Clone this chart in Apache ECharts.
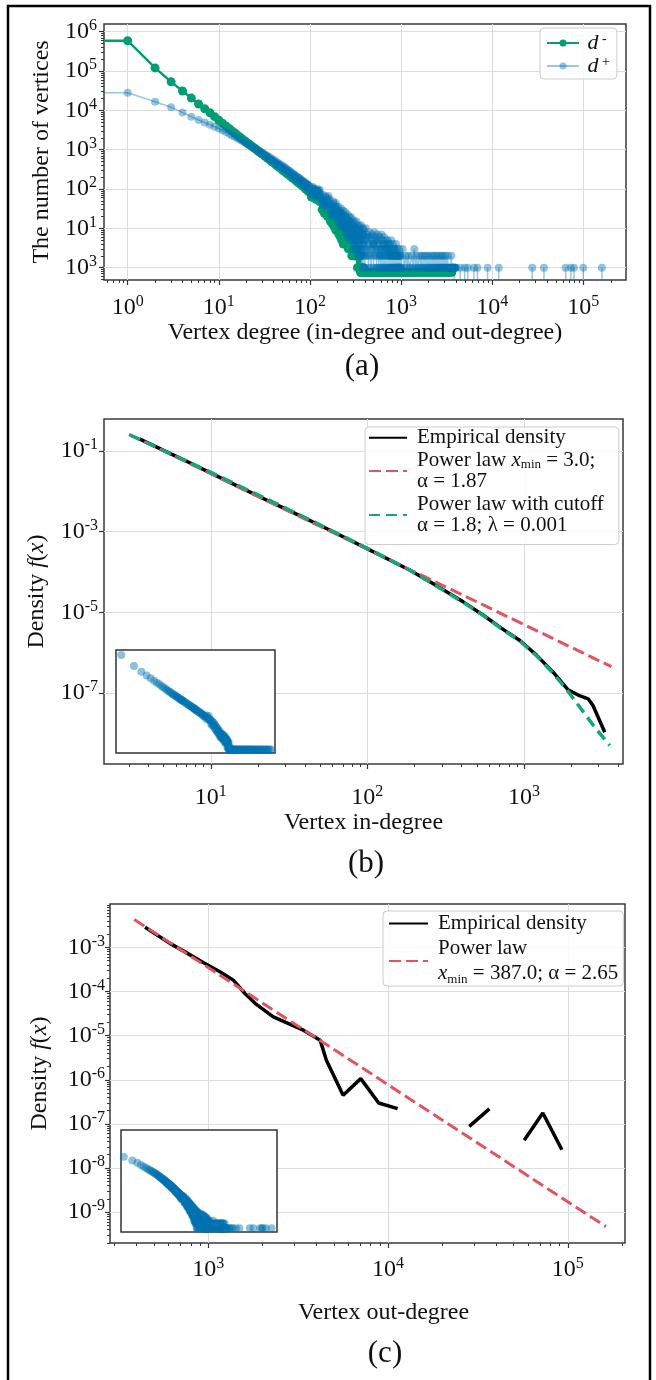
<!DOCTYPE html>
<html>
<head>
<meta charset="utf-8">
<script src="https://cdn.jsdelivr.net/npm/echarts@6/dist/echarts.min.js"></script>
<style>
html,body{margin:0;padding:0;background:#ffffff;}
#chart{width:656px;height:1380px;}
</style>
</head>
<body>
<div id="chart"></div>
<script>
// ================= DATA =================
// Panel (a): number of vertices with a given degree  [degree, number of vertices]
// (the in-degree floor row sits slightly below the 10^0 line in the figure)
const inDegreeCounts = [
[1,590000],[2,120000],[3,53000],[4,31000],[5,20500],[6,14500],[7,11000],[8,8700],[9,6900],[10,5600],
[11,4700],[12,4000],[13,3450],[14,3000],[15,2650],[16,2350],[17,2100],[18,1900],[19,1720],[20,1570],
[21,1440],[22,1330],[23,1230],[24,1140],[25,1060],[26,990],[27,925],[28,870],[29,815],[30,770],
[32,690],[34,615],[36,550],[38,500],[40,460],[42,420],[44,385],[46,355],[48,330],[50,305],
[52,285],[54,265],[56,248],[58,232],[60,220],[62,205],[65,190],[68,176],[70,165],[73,150],
[76,140],[80,128],[83,118],[86,112],[90,100],[93,96],[96,86],
[100,84],[104,62],[108,100],[112,70],[116,55],[120,88],[124,60],[128,48],
[132,52],[136,30],[140,44],[144,24],[148,38],[152,28],[156,20],[160,33],
[164,26],[168,15],[172,22],[176,13],[180,20],[184,11],[188,16],[192,9],[196,14],[200,10],
[204,12],[208,7],[212,10],[216,6],[220,9],[224,5],[228,8],[232,4],[236,7],[240,5],
[244,7],[248,4],[252,6],[256,4],[260,5],[264,3],[268,6],[272,3],[276,4],[280,3],
[284,5],[288,2],[292,4],[296,3],[300,2],[304,4],[308,2],[312,3],[316,2],[320,3],
[324,2],[328,3],[332,1],[336,2],[340,2],[344,1],[348,2],[352,1],[356,2],[360,0.75],
[364,0.75],[368,0.75],[372,1],[376,0.75],[380,0.75],[384,0.75],[388,1],[392,0.75],[396,0.75],[400,0.75],
[420,0.75],[440,0.75],[450,0.75],[480,0.75],[500,0.75],[520,0.75],[540,0.75],[560,0.75],[590,0.75],[620,0.75],[650,0.75],[680,0.75],
[710,0.75],[750,0.75],[790,0.75],[830,0.75],[870,0.75],[920,0.75],[960,0.75],[1000,0.75],[1060,0.75],[1120,0.75],[1180,0.75],[1250,0.75],
[1320,0.75],[1400,0.75],[1500,0.75],[1600,0.75],[1700,0.75],[1800,0.75],[1920,0.75],[2050,0.75],[2200,0.75],[2350,0.75],[2500,0.75],
[2700,0.75],[2900,0.75],[3100,0.75],[3350,0.75],[3600,0.75]
];
const outDegreeCounts = [
[1,28000],[2,16500],[3,12000],[4,8800],[5,6900],[6,5700],[7,4900],[8,4300],[9,3850],[10,3450],
[11,3100],[12,2800],[13,2550],[14,2300],[15,2120],[16,1960],[17,1810],[18,1680],[19,1560],[20,1450],
[21,1360],[22,1270],[23,1190],[24,1120],[25,1060],[26,1000],[27,945],[28,895],[29,850],
[30,840],[31,740],[32,770],[33,660],[34,700],[35,600],[36,650],[37,555],[38,600],[39,505],
[40,545],[41,470],[42,505],[43,430],[44,470],[45,400],[46,440],[47,375],[48,410],[49,350],
[50,385],[51,330],[52,360],[53,305],[54,340],[55,290],[56,318],[57,270],[58,300],[59,255],
[60,285],[61,240],[62,268],[63,225],[64,252],[65,215],[66,240],[67,202],[68,228],[69,190],
[70,215],[71,180],[72,206],[73,172],[74,198],[75,165],[76,188],[77,156],[78,180],[79,148],
[80,172],[81,142],[82,165],[83,137],[84,158],[85,130],[86,150],[87,125],[88,145],[89,120],
[90,140],[91,115],[92,134],[93,110],[94,130],[95,106],[96,125],[97,101],[98,120],[99,98],
[100,100],[104,75],[108,112],[112,90],[116,64],[120,100],[124,80],[128,96],
[132,72],[136,45],[140,70],[144,38],[148,64],[152,55],[156,42],[160,66],
[164,55],[168,24],[172,40],[176,20],[180,48],[184,30],[188,22],[192,44],[196,34],[200,19],
[204,36],[208,14],[212,26],[216,11],[220,32],[224,20],[228,12],[232,28],[236,16],[240,10],
[244,26],[248,8],[252,17],[256,6],[260,22],[264,12],[268,7],[272,19],[276,10],[280,6],
[284,19],[288,5],[292,12],[296,3],[300,16],[304,8],[308,4],[312,14],[316,6],[320,3],
[324,15],[328,3],[332,9],[336,2],[340,12],[344,6],[348,2],[352,11],[356,4],[360,2],
[364,12],[368,2],[372,7],[376,1],[380,10],[384,4],[388,1],[392,9],[396,3],[400,1],
[410,10],[420,2],[430,6],[440,1],[450,8],[460,3],[470,1],[480,7],[490,4],[500,1],
[510,8],[520,2],[530,5],[540,1],[550,7],[560,3],[570,1],[580,6],[590,2],[600,1],
[610,7],[620,1],[630,4],[640,2],[650,6],[660,1],[670,3],[680,5],[690,1],[700,2],
[710,5],[720,1],[730,3],[740,1],[750,4],[760,2],[770,1],[780,5],[790,1],[800,2],
[810,4],[820,1],[830,2],[840,1],[850,3],[860,1],[870,2],[880,4],[890,1],[900,1],
[910,3],[920,1],[930,2],[940,1],[950,3],[960,1],[970,1],[980,2],[990,1],[1000,1],
[1040,3],[1080,1],[1120,2],[1160,1],[1200,2],[1240,1],[1280,1],[1320,2],[1360,1],[1400,3],
[1440,1],[1480,2],[1520,1],[1560,1],[1600,2],
[1640,1],[1680,2],[1720,1],[1760,1],[1800,2],[1840,1],[1880,2],[1920,1],[1960,1],[2000,2],
[2040,1],[2080,1],[2120,2],[2160,1],[2200,1],
[2240,2],[2280,1],[2320,1],[2360,2],[2400,1],[2440,1],[2480,2],[2520,1],[2560,1],[2600,1],
[2640,2],[2680,1],[2720,1],[2760,2],[2800,1],
[2840,1],[2880,2],[2920,1],[2960,1],[3000,1],[3040,2],[3080,1],[3120,1],[3160,1],[3200,1],
[3240,2],[3280,1],[3320,1],[3360,1],[3400,1],
[3440,1],[3480,1],[3520,1],[3560,2],[3600,1],[3640,1],[3680,1],[3720,1],[3760,1],[3800,1],
[3840,1],[3880,1],[3920,1],[3960,1],[4000,1],
[4001,0],[4459,0],[4460,1],[4461,0],[4999,0],[5000,1],[5001,0],[5399,0],[5400,1],[5401,0],
[6299,0],[6300,1],[6301,0],[6899,0],[6900,1],[6901,0],[8899,0],[8900,1],[8901,0],
[11799,0],[11800,1],[11801,0],[27499,0],[27500,1],[27501,0],[36999,0],[37000,1],[37001,0],
[63999,0],[64000,1],[64001,0],[72999,0],[73000,1],[73001,0],[78999,0],[79000,1],[79001,0],
[99999,0],[100000,1],[100001,0],[159999,0],[160000,1],[160001,0]
];
// further out-degree points inside the dense cloud (between the ones above)
const outDegreeCountsMore = [
[102,88],[106,70],[110,95],[114,78],[118,84],[122,66],[126,90],[130,74],
[134,58],[138,40],[142,52],[146,47],[150,36],[154,60],[158,44],[162,50],
[166,38],[170,28],[174,33],[178,24],[182,42],[186,26],[190,36],[194,21],[198,30],[202,25],
[206,22],[210,17],[214,28],[218,13],[222,20],[226,24],[230,15],[234,19],[238,12],[242,21],
[246,14],[250,10],[254,19],[258,9],[262,13],[266,16],[270,8],[274,12],[278,15],[282,9],
[286,10],[290,7],[294,13],[298,5],[302,9],[306,11],[310,6],[314,8],[318,10],[322,5],
[326,7],[330,5],[334,10],[338,4],[342,8],[346,3],[350,6],[354,9],[358,5],[362,3],
[366,5],[370,8],[374,3],[378,6],[382,2],[386,7],[390,4],[394,5],[398,2],
[405,5],[415,3],[425,7],[435,2],[445,4],[455,6],[465,2],[475,5],[485,3],[495,4],
[505,4],[515,2],[525,6],[535,3],[545,1],[555,5],[565,2],[575,4],[585,3],[595,2],
[605,3],[615,5],[625,2],[635,4],[645,1],[655,3],[665,2],[675,4],[685,1],[695,3],
[705,3],[715,2],[725,4],[735,1],[745,2],[755,3],[765,1],[775,2],[785,3],[795,1],
[805,2],[815,3],[825,1],[835,2],[845,1],[855,3],[865,1],[875,2],[885,1],[895,2],
[905,2],[915,1],[925,2],[935,1],[945,1],[955,2],[965,1],[975,1],[985,2],[995,1]
];
// vertices of degree 0 (drawn as the flat run to the left edge)
const zeroDegreeIn = 590000;
const zeroDegreeOut = 28000;
const aXTicks = [1, 10, 100, 1000, 10000, 100000];
const aXTickExp = ['0', '1', '2', '3', '4', '5'];
const aYTicks = [1, 10, 100, 1000, 10000, 100000, 1000000];
const aYTickExp = ['3', '1', '2', '3', '4', '5', '6'];

// Panel (b): in-degree density
const empBX = [3.5, 6.4, 10.1, 15.4, 20.6, 26.4, 37, 56, 104, 186, 251, 409, 550, 720, 942, 1202, 1535, 1914, 2218, 2570, 2754, 3281];
const empBY = [0.2, 0.066, 0.028, 0.0126, 0.0073, 0.0046, 0.0025, 0.00115, 3.5e-4, 1.12e-4, 5.75e-5, 1.82e-5, 8.5e-6, 4.0e-6, 2.0e-6, 8.7e-7, 3.3e-7, 1.2e-7, 8.9e-8, 7.2e-8, 5.0e-8, 1.07e-8];
const plBX = [3.0, 3620];
const plBY = [0.26, 4.5e-7];
const plcBX = [3.05, 6.4, 10.1, 20.6, 37, 56, 104, 186, 251, 409, 550, 720, 942, 1202, 1535, 1914, 2300, 2800, 3530];
const plcBY = [0.25, 0.066, 0.029, 0.0078, 0.0026, 0.00118, 3.6e-4, 1.12e-4, 5.6e-5, 1.78e-5, 8.3e-6, 3.9e-6, 1.95e-6, 8.4e-7, 3.1e-7, 1.1e-7, 4.2e-8, 1.5e-8, 5.0e-9];
const bXTicks = [10, 100, 1000];
const bXTickExp = ['1', '2', '3'];
const bYTicks = [1e-1, 1e-3, 1e-5, 1e-7];
const bYTickExp = ['-1', '-3', '-5', '-7'];

// Panel (c): out-degree density (null = gap in the empirical curve)
const empCX = [445, 612, 742, 942, 1161, 1378, 1600, 1820, 2300, 3380, 4190, 4540, 5625, 7050, 8870, 11300, null, 28300, 36600, null, 57200, 72600, 92700];
const empCY = [2.84e-3, 1.23e-3, 7.9e-4, 4.5e-4, 2.8e-4, 1.81e-4, 9.0e-5, 5.4e-5, 2.66e-5, 1.33e-5, 7.9e-6, 2.77e-6, 4.45e-7, 1.06e-6, 2.98e-7, 2.22e-7, null, 8.8e-8, 2.18e-7, null, 4.24e-8, 1.77e-7, 2.6e-8];
const plCX = [387, 163000];
const plCY = [4.3e-3, 4.7e-10];
const cXTicks = [1000, 10000, 100000];
const cXTickExp = ['3', '4', '5'];
const cYTicks = [1e-3, 1e-4, 1e-5, 1e-6, 1e-7, 1e-8, 1e-9];
const cYTickExp = ['-3', '-4', '-5', '-6', '-7', '-8', '-9'];

// ================= CHART =================
const FONT = '"Liberation Serif", "Times New Roman", serif';
const INK = '#111111';
const GREEN = '#029e73';
const BLUE = '#0173b2';
const RED = '#e05560';
const CUTGREEN = '#14a77a';
const ZERO_DRAW = 1e-3; // zero counts fall below the log axis (clipped)

const R = {
  a: { x: [0.55, 2.94e5], y: [0.485, 1.57e6] },
  b: { x: [2.08, 4290], y: [1.74e-9, 0.622] },
  c: { x: [284, 2.08e5], y: [2.0e-10, 9.6e-3] },
  bi: { x: [0.75, 4500], y: [0.45, 1.2e6] },
  ci: { x: [0.8, 2.5e5], y: [0.59, 1.3e6] }
};

function logMinor(lo, hi) {
  const out = [];
  for (let e = Math.floor(Math.log10(lo)) - 1; e <= Math.ceil(Math.log10(hi)); e++) {
    for (let k = 2; k <= 9; k++) {
      const v = k * Math.pow(10, e);
      if (v >= lo && v <= hi) out.push(v);
    }
  }
  return out;
}
function supFmt(ticks, exps) {
  return function (v) {
    for (let i = 0; i < ticks.length; i++) {
      if (Math.abs(Math.log10(v) - Math.log10(ticks[i])) < 1e-6) return '{b|10}{s|' + exps[i] + '}';
    }
    return '';
  };
}
const tickRich = {
  b: { fontFamily: FONT, fontSize: 24, lineHeight: 28, color: INK },
  s: { fontFamily: FONT, fontSize: 16, lineHeight: 16, verticalAlign: 'top', color: INK }
};
function majorAxis(o) {
  return {
    type: 'log', gridIndex: o.grid, position: o.pos, min: o.range[0], max: o.range[1],
    axisLine: { show: false },
    axisTick: { show: true, length: 5, inside: false, customValues: o.ticks, lineStyle: { color: '#333', width: 1.2 } },
    axisLabel: { show: true, customValues: o.ticks, formatter: supFmt(o.ticks, o.exps), margin: o.margin, rich: tickRich, color: INK },
    splitLine: { show: true, lineStyle: { color: '#dddddd', width: 1 } },
    minorTick: { show: false }, minorSplitLine: { show: false },
    name: o.name, nameLocation: 'middle', nameGap: o.nameGap,
    nameTextStyle: Object.assign({ fontFamily: FONT, fontSize: 24, color: INK }, o.nameStyle || {})
  };
}
function minorAxis(o) {
  return {
    type: 'log', gridIndex: o.grid, position: o.pos, min: o.range[0], max: o.range[1],
    axisLine: { show: false },
    axisTick: { show: true, length: 3, inside: false, customValues: logMinor(o.range[0], o.range[1]), lineStyle: { color: '#333', width: 1 } },
    axisLabel: { show: false }, splitLine: { show: false }, minorTick: { show: false }
  };
}
function hiddenAxis(grid, range) {
  return { type: 'log', gridIndex: grid, min: range[0], max: range[1], show: false, splitLine: { show: false } };
}
function zip(xs, ys) {
  return xs.map((x, i) => (x === null || ys[i] === null) ? ['-', '-'] : [x, ys[i]]);
}
const densityName = '{n|Density }{i|f}{n|(}{i|x}{n|)}';
const densityRich = {
  n: { fontFamily: FONT, fontSize: 24, color: INK },
  i: { fontFamily: FONT, fontSize: 24, fontStyle: 'italic', color: INK }
};

const outAll = outDegreeCounts.concat(outDegreeCountsMore).sort((p, q) => p[0] - q[0]);
const inLine = [{ value: [R.a.x[0], zeroDegreeIn], symbol: 'none' }].concat(inDegreeCounts.map(p => [p[0], p[1]]));
const outLine = [{ value: [R.a.x[0], zeroDegreeOut], symbol: 'none' }].concat(outAll.map(p => [p[0], p[1] === 0 ? ZERO_DRAW : p[1]]));

const legendBase = {
  orient: 'vertical', selectedMode: false, backgroundColor: 'rgba(255,255,255,0.85)',
  borderColor: '#cccccc', borderWidth: 1, borderRadius: 4
};
const legRich = {
  g: { fontFamily: FONT, fontSize: 20 },
  i: { fontFamily: FONT, fontSize: 21, fontStyle: 'italic', color: INK },
  sub: { fontFamily: FONT, fontSize: 13, lineHeight: 13, verticalAlign: 'bottom', color: INK }
};
const legendText = {
  emp_b: 'Empirical density',
  pl_b: 'Power law {i|x}{sub|min} = 3.0;\nα = 1.87',
  plc_b: 'Power law with cutoff\nα = 1.8; λ = 0.001',
  emp_c: 'Empirical density',
  pl_c: 'Power law\n{i|x}{sub|min} = 387.0; α = 2.65'
};
function legFmt(name) {
  return legendText[name].split('\n').map(l => '{g| }' + l).join('\n');
}

const option = {
  animation: false,
  backgroundColor: '#ffffff',
  grid: [
    { left: 104, top: 24, width: 522, height: 256, show: true, borderColor: '#3a3a3a', borderWidth: 1.5, backgroundColor: 'rgba(0,0,0,0)', outerBoundsMode: 'none' },
    { left: 104, top: 419, width: 519, height: 345, show: true, borderColor: '#3a3a3a', borderWidth: 1.5, backgroundColor: 'rgba(0,0,0,0)', outerBoundsMode: 'none' },
    { left: 110, top: 904, width: 515, height: 339, show: true, borderColor: '#3a3a3a', borderWidth: 1.5, backgroundColor: 'rgba(0,0,0,0)', outerBoundsMode: 'none' },
    { left: 116, top: 650, width: 159, height: 103, show: true, borderColor: '#333333', borderWidth: 1.5, backgroundColor: '#ffffff', z: 10, outerBoundsMode: 'none' },
    { left: 121, top: 1130, width: 156, height: 102, show: true, borderColor: '#333333', borderWidth: 1.5, backgroundColor: '#ffffff', z: 10, outerBoundsMode: 'none' }
  ],
  xAxis: [
    majorAxis({ grid: 0, pos: 'bottom', range: R.a.x, ticks: aXTicks, exps: aXTickExp, margin: 14, name: 'Vertex degree (in-degree and out-degree)', nameGap: 39 }),
    minorAxis({ grid: 0, pos: 'bottom', range: R.a.x }),
    majorAxis({ grid: 1, pos: 'bottom', range: R.b.x, ticks: bXTicks, exps: bXTickExp, margin: 20, name: 'Vertex in-degree', nameGap: 47 }),
    minorAxis({ grid: 1, pos: 'bottom', range: R.b.x }),
    majorAxis({ grid: 2, pos: 'bottom', range: R.c.x, ticks: cXTicks, exps: cXTickExp, margin: 13, name: 'Vertex out-degree', nameGap: 58, nameStyle: { padding: [0, 0, 0, 32] } }),
    minorAxis({ grid: 2, pos: 'bottom', range: R.c.x }),
    hiddenAxis(3, R.bi.x),
    hiddenAxis(4, R.ci.x)
  ],
  yAxis: [
    majorAxis({ grid: 0, pos: 'left', range: R.a.y, ticks: aYTicks, exps: aYTickExp, margin: 7, name: 'The number of vertices', nameGap: 49 }),
    minorAxis({ grid: 0, pos: 'left', range: R.a.y }),
    majorAxis({ grid: 1, pos: 'left', range: R.b.y, ticks: bYTicks, exps: bYTickExp, margin: 6, name: densityName, nameGap: 55, nameStyle: { rich: densityRich } }),
    majorAxis({ grid: 2, pos: 'left', range: R.c.y, ticks: cYTicks, exps: cYTickExp, margin: 5, name: densityName, nameGap: 58, nameStyle: { rich: densityRich } }),
    minorAxis({ grid: 2, pos: 'left', range: R.c.y }),
    hiddenAxis(3, R.bi.y),
    hiddenAxis(4, R.ci.y)
  ],
  legend: [
    Object.assign({}, legendBase, {
      data: ['dminus', 'dplus'], left: 540, top: 28, padding: [4, 7, 2, 6],
      itemWidth: 32, itemHeight: 9, itemGap: 1,
      textStyle: { fontFamily: FONT, fontSize: 22, lineHeight: 22, color: INK,
        rich: { g: { fontSize: 14 }, i: { fontFamily: FONT, fontSize: 22, fontStyle: 'italic', color: INK, lineHeight: 22 },
                s: { fontFamily: FONT, fontSize: 14, lineHeight: 14, verticalAlign: 'top', color: INK } } },
      formatter: n => n === 'dminus' ? '{g| }{i|d}{s| -}' : '{g| }{i|d}{s| +}'
    }),
    Object.assign({}, legendBase, {
      data: ['emp_b', 'pl_b', 'plc_b'], left: 365, top: 427, padding: [0, 15, 8, 3],
      itemWidth: 38, itemHeight: 14, itemGap: 1, itemStyle: { opacity: 0 },
      textStyle: { fontFamily: FONT, fontSize: 21, lineHeight: 21.5, color: INK, rich: legRich },
      formatter: legFmt
    }),
    Object.assign({}, legendBase, {
      data: ['emp_c', 'pl_c'], left: 383, top: 911, padding: [0, 5, 0, 5],
      itemWidth: 39, itemHeight: 14, itemGap: 0, itemStyle: { opacity: 0 },
      textStyle: { fontFamily: FONT, fontSize: 21, lineHeight: 25, color: INK, rich: legRich },
      formatter: legFmt
    })
  ],
  series: [
    { name: 'dminus', type: 'line', xAxisIndex: 0, yAxisIndex: 0, data: inLine, symbol: 'circle', symbolSize: 9, showAllSymbol: true,
      lineStyle: { color: GREEN, width: 2.5 }, itemStyle: { color: GREEN }, z: 3, emphasis: { disabled: true } },
    { name: 'dplus', type: 'line', xAxisIndex: 0, yAxisIndex: 0, data: outLine, symbol: 'circle', symbolSize: 8, showAllSymbol: true,
      lineStyle: { color: BLUE, width: 1.5, opacity: 0.4 }, itemStyle: { color: BLUE, opacity: 0.42 }, z: 4, emphasis: { disabled: true } },

    { name: 'emp_b', type: 'line', xAxisIndex: 2, yAxisIndex: 2, data: zip(empBX, empBY), symbol: 'none',
      lineStyle: { color: '#000000', width: 3.5 }, itemStyle: { color: '#000000' }, z: 3 },
    { name: 'pl_b', type: 'line', xAxisIndex: 2, yAxisIndex: 2, data: zip(plBX, plBY), symbol: 'none',
      lineStyle: { color: RED, width: 3, type: [12, 5] }, itemStyle: { color: RED }, z: 4 },
    { name: 'plc_b', type: 'line', xAxisIndex: 2, yAxisIndex: 2, data: zip(plcBX, plcBY), symbol: 'none',
      lineStyle: { color: CUTGREEN, width: 3.5, type: [11, 6] }, itemStyle: { color: CUTGREEN }, z: 5 },

    { name: 'emp_c', type: 'line', xAxisIndex: 4, yAxisIndex: 3, data: zip(empCX, empCY), symbol: 'none', connectNulls: false,
      lineStyle: { color: '#000000', width: 3.5 }, itemStyle: { color: '#000000' }, z: 3 },
    { name: 'pl_c', type: 'line', xAxisIndex: 4, yAxisIndex: 3, data: zip(plCX, plCY), symbol: 'none',
      lineStyle: { color: RED, width: 3, type: [12, 5] }, itemStyle: { color: RED }, z: 4 },

    { name: 'inset_in', type: 'scatter', xAxisIndex: 6, yAxisIndex: 5, data: inDegreeCounts.map(p => [p[0], p[1]]),
      symbolSize: 8, itemStyle: { color: BLUE, opacity: 0.45 }, z: 12, silent: true },
    { name: 'inset_out', type: 'scatter', xAxisIndex: 7, yAxisIndex: 6, data: outAll.filter(p => p[1] > 0).map(p => [p[0], p[1]]),
      symbolSize: 8, itemStyle: { color: BLUE, opacity: 0.45 }, z: 12, silent: true }
  ],
  graphic: [
    { type: 'rect', shape: { x: 8, y: 6, width: 642, height: 1400 }, style: { fill: 'none', stroke: '#000000', lineWidth: 2.5 }, silent: true, z: 100 },
    { type: 'text', x: 362, y: 367, style: { text: '(a)', font: '31px ' + FONT, fill: INK, align: 'center', verticalAlign: 'middle', textAlign: 'center', textVerticalAlign: 'middle' }, silent: true },
    { type: 'text', x: 366, y: 864, style: { text: '(b)', font: '31px ' + FONT, fill: INK, align: 'center', verticalAlign: 'middle', textAlign: 'center', textVerticalAlign: 'middle' }, silent: true },
    { type: 'text', x: 385, y: 1354, style: { text: '(c)', font: '31px ' + FONT, fill: INK, align: 'center', verticalAlign: 'middle', textAlign: 'center', textVerticalAlign: 'middle' }, silent: true }
  ]
};

const chart = echarts.init(document.getElementById('chart'), null, { renderer: 'canvas', width: 656, height: 1380 });
chart.setOption(option);
</script>
</body>
</html>
